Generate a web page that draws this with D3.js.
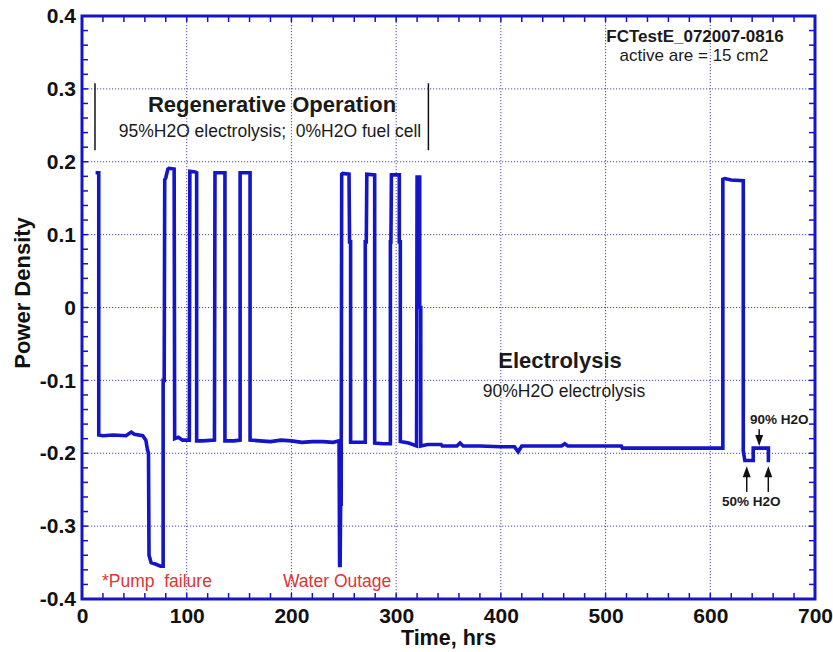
<!DOCTYPE html>
<html><head><meta charset="utf-8">
<script src="https://cdn.jsdelivr.net/npm/d3@7/dist/d3.min.js"></script>
<style>body{margin:0;background:#fff}svg{display:block}text{font-family:"Liberation Sans",Arial,sans-serif}</style>
</head><body><div id="chart"></div>
<script>
// ---- data ----
const timeHrs = [13,16,16,20,30,42,47,50,58,61,62.5,63.5,64,66,70,75,77.5,77.5,78.5,79,80,82,83,88,88.5,
  92,96,102.5,103,108,109.5,109.5,115,126.5,127,136.5,136.5,145,151,151,160.5,160.5,
  170,180,190,200,210,220,230,240,245.5,246,246.5,247,247.5,248,249,255,255.5,256.5,256.5,
  263,270.5,270.5,271.5,272,279.5,279.5,288,294.5,294.5,295,295.5,303,303,304,304,312,319.5,320,322.5,322.5,323.5,323.5,
  330,343,344,358,361,364,380,400,413,416.5,420,440,458,461,464,480,500,515,516,560,612,612,614,620,631.5,631.5,633,641,641,655.5,655.5,657];
const powerDensity = [0.185,0.185,-0.175,-0.176,-0.175,-0.176,-0.171,-0.174,-0.176,-0.182,-0.195,-0.2,-0.34,-0.35,-0.352,-0.355,-0.355,-0.1,-0.1,0.175,0.178,0.19,0.191,0.19,-0.18,
  -0.178,-0.182,-0.182,0.187,0.186,0.185,-0.183,-0.183,-0.182,0.185,0.185,-0.183,-0.183,-0.182,0.185,0.185,-0.182,
  -0.183,-0.184,-0.182,-0.183,-0.185,-0.184,-0.184,-0.185,-0.183,-0.354,-0.354,-0.27,-0.27,0.183,0.184,0.183,0.09,0.09,-0.185,
  -0.185,-0.185,0.09,0.09,0.183,0.182,-0.186,-0.187,-0.187,0.09,0.09,0.182,0.182,0.09,0.09,-0.184,-0.186,-0.19,0.179,0.179,0.0,0.0,-0.19,
  -0.188,-0.188,-0.19,-0.19,-0.186,-0.19,-0.19,-0.191,-0.191,-0.198,-0.19,-0.19,-0.19,-0.187,-0.19,-0.19,-0.19,-0.19,-0.193,-0.193,-0.193,0.176,0.177,0.175,0.174,-0.197,-0.21,-0.21,-0.193,-0.193,-0.21,-0.21];
const xTicks = [0,100,200,300,400,500,600,700];
const yTicks = [-0.4,-0.3,-0.2,-0.1,0,0.1,0.2,0.3,0.4];
const yTickLabels = ["-0.4","-0.3","-0.2","-0.1","0","0.1","0.2","0.3","0.4"];

// ---- layout ----
const W = 833, H = 652;
const L = 82, R = 815, T = 16, B = 599;
const blue = "#1414c8", grid = "#4a4aa8", red = "#dd3535";

const svg = d3.select("#chart").append("svg").attr("width", W).attr("height", H);
const x = d3.scaleLinear().domain([0,700]).range([L,R]);
const y = d3.scaleLinear().domain([-0.4,0.4]).range([B,T]);

// gridlines
const g = svg.append("g");
g.selectAll(".vg").data(xTicks.slice(1,-1)).join("line")
  .attr("x1", d=>x(d)).attr("x2", d=>x(d)).attr("y1", T).attr("y2", B)
  .attr("stroke", grid).attr("stroke-width", 1).attr("stroke-dasharray", "1.2,1.8");
g.selectAll(".hg").data(yTicks.slice(1,-1)).join("line")
  .attr("y1", d=>y(d)).attr("y2", d=>y(d)).attr("x1", L).attr("x2", R)
  .attr("stroke", grid).attr("stroke-width", 1).attr("stroke-dasharray", "1.2,1.8");

// minor/major ticks, inward on all four sides
const xMinor = d3.range(0, 701, 20), yMinor = d3.range(-20, 21).map(v => v/50);
const tk = svg.append("g").attr("stroke", blue).attr("stroke-width", 1.5);
tk.selectAll(".tb").data(xMinor).join("line").attr("x1", d=>x(d)).attr("x2", d=>x(d)).attr("y1", B).attr("y2", B-6);
tk.selectAll(".tt").data(xMinor).join("line").attr("x1", d=>x(d)).attr("x2", d=>x(d)).attr("y1", T).attr("y2", T+6);
tk.selectAll(".tl").data(yMinor).join("line").attr("y1", d=>y(d)).attr("y2", d=>y(d)).attr("x1", L).attr("x2", L+6);
tk.selectAll(".tr").data(yMinor).join("line").attr("y1", d=>y(d)).attr("y2", d=>y(d)).attr("x1", R).attr("x2", R-6);

// axis labels via d3 axes (no lines)
const xa = svg.append("g").attr("transform", `translate(0,${B})`)
  .call(d3.axisBottom(x).tickValues(xTicks).tickSize(0).tickPadding(9).tickFormat(d3.format("d")));
xa.select(".domain").remove();
xa.selectAll("text").attr("font-size", 21).attr("font-weight", "bold").attr("fill", "#111")
  .attr("font-family", "Liberation Sans, Arial, sans-serif");
const ya = svg.append("g").attr("transform", `translate(${L},0)`)
  .call(d3.axisLeft(y).tickValues(yTicks).tickSize(0).tickPadding(6).tickFormat((d,i)=>yTickLabels[i]));
ya.select(".domain").remove();
ya.selectAll("text").attr("font-size", 21).attr("font-weight", "bold").attr("fill", "#111")
  .attr("font-family", "Liberation Sans, Arial, sans-serif");

// data line
const pts = timeHrs.map((t,i)=>[t, powerDensity[i]]);
svg.append("path").datum(pts)
  .attr("d", d3.line().x(d=>x(d[0])).y(d=>y(d[1])))
  .attr("fill", "none").attr("stroke", blue).attr("stroke-width", 3.6).attr("stroke-linejoin", "miter");

// frame
svg.append("rect").attr("x", L).attr("y", T).attr("width", R-L).attr("height", B-T)
  .attr("fill", "none").attr("stroke", blue).attr("stroke-width", 3);

// axis titles
svg.append("text").attr("x", (L+R)/2).attr("y", 645).attr("text-anchor", "middle")
  .attr("font-size", 21.5).attr("font-weight", "bold").attr("fill", "#111").text("Time, hrs");
svg.append("text").attr("transform", "translate(30,293) rotate(-90)").attr("text-anchor", "middle")
  .attr("font-size", 22).attr("font-weight", "bold").attr("fill", "#111").text("Power Density");

// annotations
function txt(xp, yp, s, size, bold, col, anchor) {
  svg.append("text").attr("x", xp).attr("y", yp).attr("text-anchor", anchor || "middle")
    .attr("font-size", size).attr("font-weight", bold ? "bold" : "normal").attr("fill", col || "#1a1a1a")
    .style("white-space", "pre").text(s);
}
txt(695, 42, "FCTestE_072007-0816", 17, true);
txt(694, 61, "active are = 15 cm2", 17, false);
txt(272, 112, "Regenerative Operation", 22, true);
txt(270, 137, "95%H2O electrolysis;  0%H2O fuel cell", 17.5, false);
txt(560, 368, "Electrolysis", 22, true);
txt(564, 397, "90%H2O electrolysis", 17.5, false);
txt(102, 587, "*Pump  failure", 17.5, false, red, "start");
txt(283, 587, "Water Outage", 17.5, false, red, "start");
txt(750, 424, "90% H2O", 13.5, true, "#1a1a1a", "start");
txt(722, 506, "50% H2O", 13.5, true, "#1a1a1a", "start");

// bracket lines
[12.4, 330.8].forEach(t => {
  svg.append("line").attr("x1", x(t)).attr("x2", x(t)).attr("y1", y(0.3077)).attr("y2", y(0.2158))
    .attr("stroke", "#111").attr("stroke-width", 1.5);
});

// arrows
function arrow(t, v0, v1) {
  const xp = x(t), y0 = y(v0), y1 = y(v1);
  const dir = y1 > y0 ? 1 : -1;
  svg.append("line").attr("x1", xp).attr("x2", xp).attr("y1", y0).attr("y2", y1 - dir*8)
    .attr("stroke", "#111").attr("stroke-width", 1.5);
  svg.append("path").attr("d", `M${xp},${y1} L${xp-4},${y1-dir*11} L${xp+4},${y1-dir*11} Z`).attr("fill", "#111");
}
arrow(646.7, -0.167, -0.19);
arrow(634.8, -0.253, -0.218);
arrow(655.4, -0.253, -0.218);
</script></body></html>
